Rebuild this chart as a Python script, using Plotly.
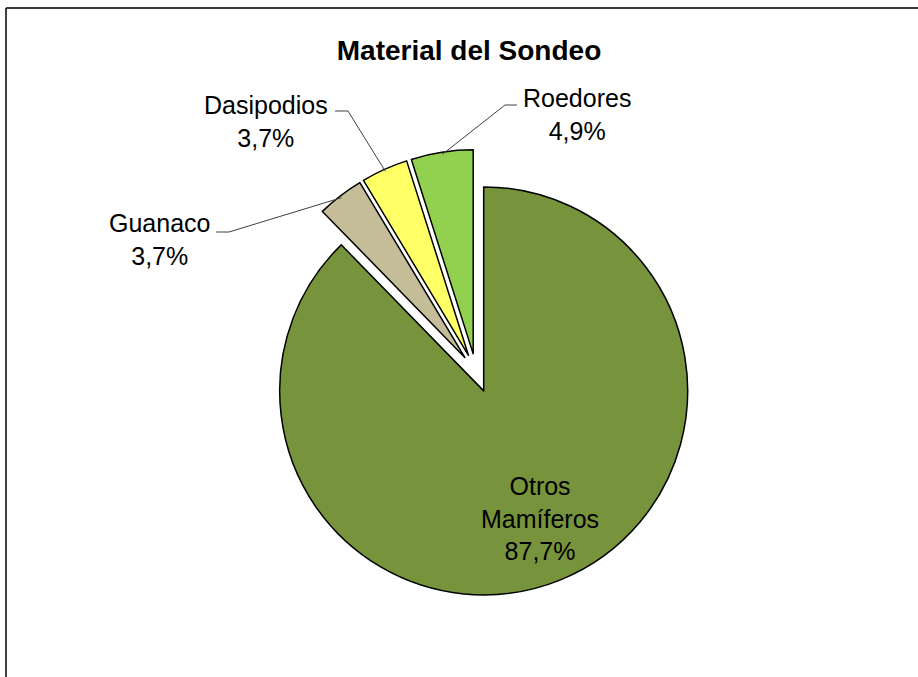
import math
import plotly.graph_objects as go

# slice data, clockwise from 12 o'clock
labels = ["Otros Mamíferos", "Guanaco", "Dasipodios", "Roedores"]
label_lines = ["Otros<br>Mamíferos", "Guanaco", "Dasipodios", "Roedores"]
values = [87.7, 3.7, 3.7, 4.9]
colors = ["#77933C", "#C4BD97", "#FFFF66", "#92D050"]
pulls = [0.10, 0.09, 0.09, 0.09]

W, H = 918, 677
CX, CY, R = 476, 372, 204          # pie centre and radius in pixels
FONT = "Arial, Liberation Sans, sans-serif"

# label centres (px) and the start of each leader line (px)
label_pos = [(540, 518), (159, 239), (266, 121), (577, 114)]
leader_start = [None, ((216, 232), (229, 232)), ((335, 111), (348, 111)), ((517, 105), (505, 105))]


def px(x, y):
    return x / W, 1 - y / H


def pct(v):
    return f"{v:.1f}".replace(".", ",") + "%"


half = R * (1 + max(pulls))
fig = go.Figure(
    go.Pie(
        labels=labels,
        values=values,
        sort=False,
        direction="clockwise",
        rotation=0,
        pull=pulls,
        marker=dict(colors=colors, line=dict(color="black", width=1.5)),
        textinfo="none",
        hoverinfo="label+percent",
        showlegend=False,
        domain=dict(
            x=[(CX - half) / W, (CX + half) / W],
            y=[1 - (CY + half) / H, 1 - (CY - half) / H],
        ),
    )
)

total = sum(values)
cum = 0
for i, v in enumerate(values):
    ang = math.radians((cum + v / 2) / total * 360)
    cum += v
    lx, ly = label_pos[i]
    ax, ay = px(lx, ly)
    fig.add_annotation(
        x=ax, y=ay, xref="paper", yref="paper",
        text=f"{label_lines[i]}<br>{pct(v)}",
        showarrow=False, align="center",
        xanchor="center", yanchor="middle",
        font=dict(family=FONT, size=25, color="black"),
    )
    if leader_start[i] is None:
        continue
    rr = (1 + pulls[i]) * R * 0.99
    ex, ey = CX + rr * math.sin(ang), CY - rr * math.cos(ang)
    (x0, y0), (x1, y1) = leader_start[i]
    p0, p1, p2 = px(x0, y0), px(x1, y1), px(ex, ey)
    fig.add_shape(
        type="path", xref="paper", yref="paper",
        path=f"M {p0[0]},{p0[1]} L {p1[0]},{p1[1]} L {p2[0]},{p2[1]}",
        line=dict(color="#404040", width=1),
    )

# chart frame (top and left edges visible)
fig.add_shape(type="line", xref="paper", yref="paper",
              x0=6 / W, y0=1 - 8 / H, x1=1.01, y1=1 - 8 / H,
              line=dict(color="black", width=1.5))
fig.add_shape(type="line", xref="paper", yref="paper",
              x0=6 / W, y0=1 - 8 / H, x1=6 / W, y1=-0.01,
              line=dict(color="black", width=1.5))

fig.update_layout(
    title=dict(
        text="<b>Material del Sondeo</b>",
        x=469 / W, y=1 - 50 / H, xanchor="center", yanchor="middle",
        font=dict(family=FONT, size=28, color="black"),
    ),
    width=W,
    height=H,
    margin=dict(l=0, r=0, t=0, b=0),
    paper_bgcolor="white",
    plot_bgcolor="white",
)

# drop the default page margin so the figure sits at the window corner
fig.write_html(
    "out.html",
    config={"displayModeBar": False},
    post_script="document.body.style.margin='0';",
)
